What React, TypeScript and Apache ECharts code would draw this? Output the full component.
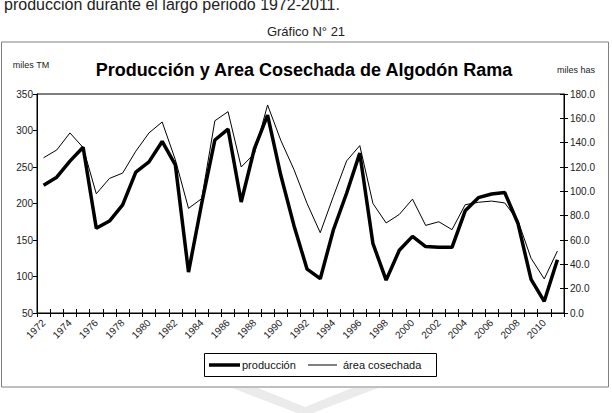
import React, { useEffect, useRef } from "react";
import * as echarts from "echarts";

const years = [
  "1972","1973","1974","1975","1976","1977","1978","1979","1980","1981",
  "1982","1983","1984","1985","1986","1987","1988","1989","1990","1991",
  "1992","1993","1994","1995","1996","1997","1998","1999","2000","2001",
  "2002","2003","2004","2005","2006","2007","2008","2009","2010","2011",
];

// miles TM (left axis)
const produccion = [
  225, 236, 258, 277, 166, 176, 198, 243, 257, 285,
  253, 106, 200, 287, 302, 202, 275, 321, 239, 170,
  110, 97, 164, 214, 269, 145, 95, 136, 155, 141,
  140, 140, 190, 208, 213, 215, 173, 96, 66, 123,
];

// miles has (right axis)
const areaCosechada = [
  127.6, 134, 148, 136, 98, 110.6, 115, 133, 148, 157,
  126, 86, 94, 158, 165.5, 120, 131, 171, 142, 118,
  90, 66, 96, 125, 137.6, 90, 74, 81, 93.6, 72,
  75, 68.5, 89, 91, 92, 90.5, 76, 45, 28, 51,
];

const seriesNames = ["producción", "área cosechada"];

const FONT = "'Liberation Sans', Arial, sans-serif";

export default function App() {
  const ref = useRef<HTMLDivElement>(null);
  useEffect(() => {
    if (!ref.current) return;
    const chart = echarts.init(ref.current, undefined, { renderer: "svg" });
    chart.setOption({
      animation: false,
      backgroundColor: "#ffffff",
      textStyle: { fontFamily: FONT },
      grid: {
        left: 37,
        right: 48,
        top: 94,
        bottom: 100,
        show: true,
        borderColor: "#000",
        borderWidth: 1,
        containLabel: false,
      },
      xAxis: [
        {
          type: "category",
          data: years,
          boundaryGap: true,
          axisLine: { lineStyle: { color: "#000", width: 1 } },
          axisTick: { show: true, interval: 0, length: 4, lineStyle: { color: "#000" } },
          axisLabel: {
            interval: 1,
            rotate: 45,
            margin: 8,
            fontSize: 10,
            color: "#222",
            fontFamily: FONT,
          },
        },
        {
          type: "category",
          data: years,
          boundaryGap: true,
          position: "bottom",
          axisLine: { show: false },
          axisTick: { show: true, inside: true, interval: 0, length: 4, lineStyle: { color: "#000" } },
          axisLabel: { show: false },
        },
      ],
      yAxis: [
        {
          type: "value",
          min: 50,
          max: 350,
          interval: 50,
          position: "left",
          splitLine: { show: false },
          axisLine: { show: true, lineStyle: { color: "#000", width: 1 } },
          axisTick: { show: true, length: 4, lineStyle: { color: "#000" } },
          axisLabel: { fontSize: 10, color: "#222", margin: 4, fontFamily: FONT },
          name: "miles TM",
          nameLocation: "end",
          nameGap: 25,
          nameTextStyle: { fontSize: 9, color: "#222", align: "center", padding: [0, 0, 0, -12] },
        },
        {
          type: "value",
          min: 0,
          max: 180,
          interval: 20,
          position: "right",
          splitLine: { show: false },
          axisLine: { show: true, lineStyle: { color: "#000", width: 1 } },
          axisTick: { show: true, length: 4, lineStyle: { color: "#000" } },
          axisLabel: {
            fontSize: 10,
            color: "#222",
            margin: 6,
            fontFamily: FONT,
            formatter: (v: number) => v.toFixed(1),
          },
          name: "miles has",
          nameLocation: "end",
          nameGap: 20,
          nameTextStyle: { fontSize: 9, color: "#222", align: "center", padding: [0, 0, 0, 24] },
        },
        {
          type: "value",
          min: 0,
          max: 180,
          interval: 20,
          position: "right",
          splitLine: { show: false },
          axisLine: { show: false },
          axisTick: { show: true, inside: true, length: 4, lineStyle: { color: "#000" } },
          axisLabel: { show: false },
        },
      ],
      graphic: [
        {
          type: "polygon",
          z: -10,
          silent: true,
          shape: {
            points: [
              [232, 388], [258, 388], [305, 407], [352, 388], [378, 388], [305, 416],
            ],
          },
          style: { fill: "#ebebeb" },
        },
        {
          type: "rect",
          shape: { x: 1.5, y: 42, width: 607, height: 345 },
          style: { fill: "none", stroke: "#808080", lineWidth: 1 },
          silent: true,
        },
        {
          type: "text",
          x: 4,
          y: 12,
          style: {
            text: "producción durante el largo periodo 1972-2011.",
            fontSize: 16,
            fontFamily: FONT,
            fill: "#222",
            verticalAlign: "bottom",
          },
        },
        {
          type: "text",
          x: 306,
          y: 31,
          style: {
            text: "Gráfico N° 21",
            fontSize: 13,
            fontFamily: FONT,
            fill: "#222",
            align: "center",
            verticalAlign: "middle",
          },
        },
        {
          type: "text",
          x: 304,
          y: 70,
          style: {
            text: "Producción y Area Cosechada de Algodón Rama",
            fontSize: 18,
            fontWeight: "bold",
            fontFamily: FONT,
            fill: "#000",
            align: "center",
            verticalAlign: "middle",
          },
        },
        // legend
        {
          type: "rect",
          shape: { x: 204.5, y: 353.5, width: 232, height: 23 },
          style: { fill: "#fff", stroke: "#000", lineWidth: 1 },
        },
        {
          type: "line",
          shape: { x1: 209, y1: 365, x2: 240, y2: 365 },
          style: { stroke: "#000", lineWidth: 3.5 },
        },
        {
          type: "text",
          x: 242,
          y: 365,
          style: {
            text: seriesNames[0],
            fontSize: 11,
            fontFamily: FONT,
            fill: "#111",
            verticalAlign: "middle",
          },
        },
        {
          type: "line",
          shape: { x1: 308, y1: 365, x2: 337, y2: 365 },
          style: { stroke: "#000", lineWidth: 1 },
        },
        {
          type: "text",
          x: 343,
          y: 365,
          style: {
            text: seriesNames[1],
            fontSize: 11,
            fontFamily: FONT,
            fill: "#111",
            verticalAlign: "middle",
          },
        },
      ],
      series: [
        {
          name: seriesNames[0],
          type: "line",
          xAxisIndex: 0,
          yAxisIndex: 0,
          data: produccion,
          symbol: "none",
          lineStyle: { color: "#000", width: 3.5 },
          itemStyle: { color: "#000" },
        },
        {
          name: seriesNames[1],
          type: "line",
          xAxisIndex: 0,
          yAxisIndex: 1,
          data: areaCosechada,
          symbol: "none",
          lineStyle: { color: "#000", width: 1 },
          itemStyle: { color: "#000" },
        },
      ],
    });
    return () => chart.dispose();
  }, []);
  return (
    <div
      ref={ref}
      style={{ position: "fixed", left: 0, top: 0, width: 612, height: 413 }}
    />
  );
}
